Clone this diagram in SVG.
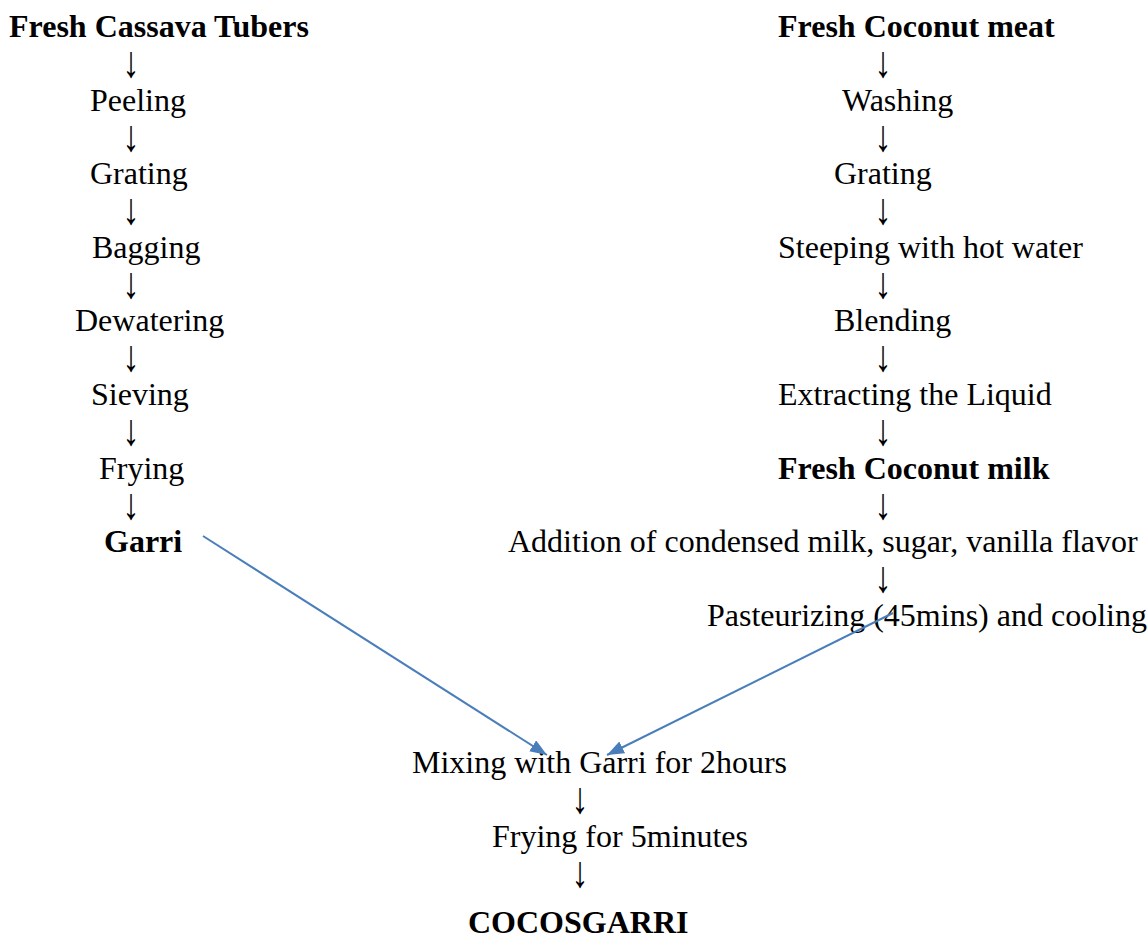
<svg xmlns="http://www.w3.org/2000/svg" width="1147" height="939" viewBox="0 0 1147 939">
  <style>
    text { font-family: "Liberation Serif", "Times New Roman", serif; font-size: 32px; fill: #000; }
    .b { font-weight: bold; }
    .arr { text-anchor: middle; font-size: 34px; }
    .link { fill: none; stroke: #4A7EBB; stroke-width: 2; }
  </style>
  <defs>
    <marker id="head" markerUnits="userSpaceOnUse" markerWidth="18" markerHeight="14" refX="17" refY="6.5" orient="auto">
      <path d="M0,0 L17,6.5 L0,13 Z" fill="#4A7EBB"/>
    </marker>
  </defs>
  <rect width="1147" height="939" fill="#fff"/>

  <!-- Left column -->
  <g id="n-cassava"><text class="b" x="9" y="37">Fresh Cassava Tubers</text></g>
  <g id="n-peeling"><text x="90" y="110.6">Peeling</text></g>
  <g id="n-grating1"><text x="90" y="184.2">Grating</text></g>
  <g id="n-bagging"><text x="92" y="257.8">Bagging</text></g>
  <g id="n-dewatering"><text x="75" y="331.4">Dewatering</text></g>
  <g id="n-sieving"><text x="91" y="405">Sieving</text></g>
  <g id="n-frying1"><text x="99" y="478.6">Frying</text></g>
  <g id="n-garri"><text class="b" x="104" y="552.2">Garri</text></g>

  <!-- Right column -->
  <g id="n-coconut"><text class="b" x="778" y="37">Fresh Coconut meat</text></g>
  <g id="n-washing"><text x="842" y="110.6">Washing</text></g>
  <g id="n-grating2"><text x="834" y="184.2">Grating</text></g>
  <g id="n-steeping"><text x="778" y="257.8">Steeping with hot water</text></g>
  <g id="n-blending"><text x="834" y="331.4">Blending</text></g>
  <g id="n-extracting"><text x="778" y="405">Extracting the Liquid</text></g>
  <g id="n-milk"><text class="b" x="778" y="478.6">Fresh Coconut milk</text></g>
  <g id="n-addition"><text x="508" y="552.2">Addition of condensed milk, sugar, vanilla flavor</text></g>
  <g id="n-pasteurizing"><text x="707" y="625.8">Pasteurizing (45mins) and cooling</text></g>

  <!-- Bottom -->
  <g id="n-mixing"><text x="412" y="773">Mixing with Garri for 2hours</text></g>
  <g id="n-frying2"><text x="492" y="846.6">Frying for 5minutes</text></g>
  <g id="n-cocosgarri"><text class="b" x="468" y="933">COCOSGARRI</text></g>

  <!-- Connectors -->
  <g id="connectors">
    <text class="arr" transform="translate(131,77) scale(1,1.3)">↓</text>
    <text class="arr" transform="translate(131,150.6) scale(1,1.3)">↓</text>
    <text class="arr" transform="translate(131,224.2) scale(1,1.3)">↓</text>
    <text class="arr" transform="translate(131,297.8) scale(1,1.3)">↓</text>
    <text class="arr" transform="translate(131,371.4) scale(1,1.3)">↓</text>
    <text class="arr" transform="translate(131,445) scale(1,1.3)">↓</text>
    <text class="arr" transform="translate(131,518.6) scale(1,1.3)">↓</text>

    <text class="arr" transform="translate(883,77) scale(1,1.3)">↓</text>
    <text class="arr" transform="translate(883,150.6) scale(1,1.3)">↓</text>
    <text class="arr" transform="translate(883,224.2) scale(1,1.3)">↓</text>
    <text class="arr" transform="translate(883,297.8) scale(1,1.3)">↓</text>
    <text class="arr" transform="translate(883,371.4) scale(1,1.3)">↓</text>
    <text class="arr" transform="translate(883,445) scale(1,1.3)">↓</text>
    <text class="arr" transform="translate(883,518.6) scale(1,1.3)">↓</text>
    <text class="arr" transform="translate(883,592.2) scale(1,1.3)">↓</text>

    <text class="arr" transform="translate(580,813) scale(1,1.3)">↓</text>
    <text class="arr" transform="translate(580,886.6) scale(1,1.3)">↓</text>

    <path class="link" d="M203,536 L547,755" marker-end="url(#head)"/>
    <path class="link" d="M893,613 L607,755" marker-end="url(#head)"/>
  </g>
</svg>
